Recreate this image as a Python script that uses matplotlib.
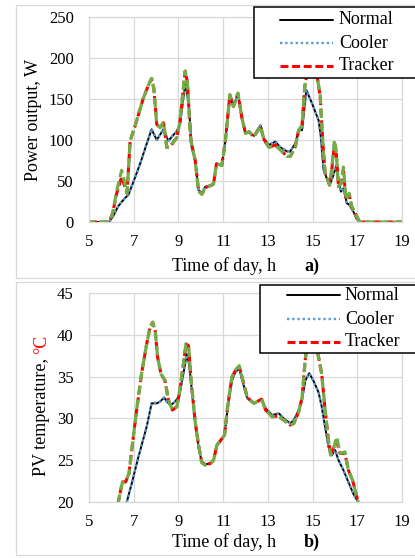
import matplotlib
matplotlib.use("Agg")
import matplotlib.pyplot as plt
from matplotlib.patches import Rectangle
from matplotlib.lines import Line2D

plt.rcParams['font.family'] = ['Liberation Serif', 'DejaVu Serif']

# ---------------- data: power output (W) ----------------
t_pow_normal = [5.0, 5.9, 6.1, 6.3, 6.6, 6.76, 7.0, 7.3, 7.6, 7.8, 8.03, 8.33, 8.55, 8.93, 9.07,
                9.3, 9.45, 9.6, 9.75, 9.9, 10.05, 10.2, 10.4, 10.57, 10.7, 10.94, 11.1, 11.3,
                11.46, 11.66, 11.84, 12.0, 12.16, 12.38, 12.67, 12.82, 13.04, 13.34, 13.56,
                13.86, 14.0, 14.23, 14.38, 14.53, 14.72, 14.97, 15.27, 15.37, 15.49, 15.64,
                15.79, 15.93, 16.05, 16.16, 16.27, 16.38, 16.53, 16.64, 16.82, 16.97, 17.12, 19.0]
p_normal = [0, 0, 8, 19, 29, 33, 50, 72, 97, 113, 100, 113, 99, 111, 119,
            168, 147, 91, 75, 39, 35, 43, 44, 47, 71, 69, 99, 153,
            141, 156, 127, 108, 110, 105, 118, 102, 94, 98, 91,
            86, 86, 96, 112, 112, 161, 145, 124, 104, 64, 53,
            47, 57, 68, 51, 37, 41, 23, 21, 13, 4, 0, 0]
p_cooler = [0, 0, 8, 19, 29, 33, 50, 72, 97, 114, 100, 113, 99, 111, 119,
            168, 147, 91, 75, 39, 35, 43, 44, 47, 71, 69, 99, 153,
            141, 156, 127, 108, 110, 105, 118, 102, 94, 98, 91,
            86, 86, 96, 112, 112, 161, 145, 124, 104, 64, 53,
            47, 57, 68, 51, 37, 41, 23, 21, 13, 4, 0, 0]

t_pow_tracker = [5.0, 5.9, 6.05, 6.24, 6.46, 6.58, 6.7, 6.84, 7.06, 7.43, 7.66, 7.8, 7.9, 8.03,
                 8.18, 8.33, 8.48, 8.63, 8.93, 9.07, 9.3, 9.4, 9.55, 9.75, 9.9, 10.05, 10.2,
                 10.4, 10.57, 10.7, 10.94, 11.1, 11.3, 11.46, 11.66, 11.84, 12.0, 12.16, 12.38,
                 12.67, 12.82, 13.04, 13.34, 13.56, 13.86, 14.0, 14.23, 14.38, 14.53, 14.65,
                 14.8, 15.0, 15.2, 15.34, 15.46, 15.56, 15.76, 15.86, 15.98, 16.05, 16.16,
                 16.27, 16.38, 16.5, 16.64, 16.75, 16.97, 17.12, 19.0]
p_tracker = [0, 0, 10, 35, 55, 45, 35, 99, 117, 151, 167, 175, 163, 119,
             115, 121, 91, 92, 103, 123, 184, 171, 100, 75, 38, 34, 42,
             44, 46, 71, 69, 99, 155, 141, 157, 127, 108, 110, 104,
             117, 101, 91, 94, 88, 80, 80, 92, 112, 118, 165,
             188, 186, 178, 153, 96, 60, 45, 64, 95, 88, 43,
             47, 62, 27, 33, 19, 7, 0, 0]
p_extra = [0, 0, 10, 38, 63, 50, 35, 99, 117, 151, 167, 175, 163, 119,
           115, 122, 91, 92, 103, 123, 184, 171, 100, 75, 37, 34, 42,
           44, 46, 71, 69, 99, 155, 141, 157, 127, 108, 110, 104,
           117, 101, 91, 93, 88, 80, 80, 92, 112, 118, 165,
           188, 186, 178, 155, 96, 60, 45, 66, 100, 88, 43,
           47, 67, 27, 35, 19, 7, 0, 0]

# ---------------- data: PV temperature (degC) ----------------
t_tmp_normal = [6.4, 6.69, 6.91, 7.21, 7.58, 7.8, 8.03, 8.18, 8.36, 8.48, 8.66, 8.85, 9.04, 9.22,
                9.37, 9.48, 9.63, 9.75, 9.9, 10.04, 10.19, 10.42, 10.57, 10.72, 10.87, 11.06,
                11.21, 11.39, 11.54, 11.72, 11.86, 12.08, 12.38, 12.72, 12.9, 13.19, 13.49,
                13.71, 14.0, 14.16, 14.38, 14.53, 14.67, 14.85, 15.04, 15.27, 15.41, 15.56,
                15.71, 15.86, 16.01, 16.16, 16.38, 16.6, 16.82, 17.04, 17.4]
T_normal = [17.0, 20.0, 22.2, 25.4, 29.0, 31.8, 31.8, 32.0, 32.5, 32.0, 31.6, 32.0, 32.7, 35.3,
            37.7, 36.5, 32.5, 29.4, 26.6, 24.8, 24.5, 24.6, 25.0, 26.8, 27.3, 28.0,
            31.4, 34.5, 35.5, 36.0, 34.5, 32.4, 31.8, 32.3, 31.2, 30.4, 30.6,
            30.0, 29.4, 29.8, 31.0, 32.2, 34.5, 35.4, 34.5, 33.1, 31.4, 29.0,
            26.6, 25.6, 26.2, 25.0, 23.8, 22.4, 21.0, 20.0, 17.0]
T_cooler = [17.0, 20.0, 22.2, 25.4, 29.0, 31.8, 31.9, 32.0, 32.5, 32.0, 31.6, 32.0, 32.7, 35.3,
            37.6, 36.5, 32.5, 29.4, 26.6, 24.8, 24.5, 24.6, 25.0, 26.8, 27.3, 28.0,
            31.4, 34.5, 35.5, 36.0, 34.5, 32.4, 31.8, 32.3, 31.2, 30.4, 30.6,
            30.0, 29.4, 29.8, 31.0, 32.2, 34.5, 35.4, 34.5, 33.1, 31.4, 29.0,
            26.6, 25.6, 26.2, 25.0, 23.8, 22.4, 21.0, 20.0, 17.0]

t_tmp_tracker = [6.0, 6.31, 6.49, 6.64, 6.79, 6.91, 7.13, 7.36, 7.58, 7.73, 7.85, 7.96, 8.07, 8.22,
                 8.4, 8.55, 8.73, 8.93, 9.07, 9.22, 9.34, 9.45, 9.57, 9.75, 9.9, 10.04, 10.19,
                 10.42, 10.57, 10.72, 10.87, 11.06, 11.21, 11.39, 11.54, 11.72, 11.86, 12.08,
                 12.38, 12.72, 12.9, 13.19, 13.49, 13.71, 14.0, 14.16, 14.38, 14.53, 14.67,
                 14.8, 14.95, 15.1, 15.27, 15.41, 15.56, 15.71, 15.81, 15.96, 16.08, 16.23,
                 16.45, 16.6, 16.79, 17.04, 17.4]
T_tracker = [17.0, 20.0, 22.4, 22.4, 23.4, 26.2, 31.0, 35.5, 38.9, 40.9, 41.5, 40.5, 37.3, 35.3,
             34.5, 32.2, 31.0, 31.4, 33.5, 36.5, 38.9, 38.7, 34.5, 29.6, 26.8, 24.8, 24.5,
             24.6, 25.0, 26.8, 27.3, 28.0, 31.6, 34.9, 35.7, 36.2, 34.8, 32.5,
             31.8, 32.3, 31.0, 30.2, 30.3, 29.8, 29.2, 29.4, 30.8, 32.5, 37.0,
             39.5, 40.0, 39.5, 37.3, 35.3, 31.0, 27.4, 25.6, 26.6, 27.2, 25.8,
             25.8, 23.8, 22.6, 20.0, 17.0]
T_extra = [17.0, 20.0, 22.3, 22.5, 23.4, 26.2, 31.0, 35.5, 38.9, 40.9, 41.5, 40.5, 37.3, 35.3,
           34.6, 32.2, 31.0, 31.4, 33.5, 36.5, 38.9, 38.7, 34.5, 29.6, 26.8, 24.7, 24.4,
           24.6, 25.0, 26.8, 27.3, 28.0, 31.6, 34.9, 35.8, 36.3, 34.8, 32.5,
           31.8, 32.3, 31.0, 30.2, 30.2, 29.8, 29.2, 29.4, 30.8, 32.5, 37.0,
           39.5, 40.0, 39.5, 37.3, 35.3, 31.0, 27.4, 25.6, 26.6, 27.8, 25.8,
           26.0, 23.8, 22.6, 20.0, 17.0]

x_ticks = [5, 7, 9, 11, 13, 15, 17, 19]
pow_ticks = [0, 50, 100, 150, 200, 250]
tmp_ticks = [20, 25, 30, 35, 40, 45]
series_names = ["Normal", "Cooler", "Tracker"]

# ---------------- layout ----------------
W, H = 415, 558
fig = plt.figure(figsize=(W / 100, H / 100), dpi=100)


def fx(x):
    return x / W


def fy(y):
    return 1 - y / H


GRID = '#D9D9D9'
C_NORMAL = 'black'
C_COOLER = '#5B9BD5'
C_TRACKER = '#FF0000'
C_EXTRA = '#70AD47'

st_normal = dict(color=C_NORMAL, lw=1.4, solid_capstyle='round', solid_joinstyle='round')
st_cooler = dict(color=C_COOLER, lw=1.7, linestyle=(0, (1, 1.2)))
st_tracker = dict(color=C_TRACKER, lw=2.2, linestyle=(0, (2.6, 1.2)))
st_extra = dict(color=C_EXTRA, lw=2.3, linestyle=(1.2, (3.0, 1.4)))

# outer chart borders
for (x0, y0, x1, y1) in [(16, 5, 417, 278), (16, 282, 417, 555)]:
    fig.add_artist(Rectangle((fx(x0), fy(y1)), fx(x1) - fx(x0), fy(y0) - fy(y1),
                             transform=fig.transFigure, fill=False, ec=GRID, lw=0.9, zorder=0.5))


def setup(ax, yticks):
    ax.set_xlim(5, 19)
    ax.set_ylim(yticks[0], yticks[-1])
    ax.set_xticks(x_ticks)
    ax.set_yticks(yticks)
    ax.grid(True, color=GRID, lw=0.9)
    ax.set_axisbelow(True)
    for s in ax.spines.values():
        s.set_color(GRID)
        s.set_linewidth(0.9)
    ax.tick_params(axis='both', length=0, labelsize=12)
    ax.tick_params(axis='y', pad=11)
    ax.tick_params(axis='x', pad=9)


ax_a = fig.add_axes([fx(89), fy(222), fx(402) - fx(89), fy(17) - fy(222)])
ax_b = fig.add_axes([fx(89), fy(502), fx(402) - fx(89), fy(293) - fy(502)])
setup(ax_a, pow_ticks)
setup(ax_b, tmp_ticks)

ax_a.plot(t_pow_normal, p_normal, **st_normal)
ax_a.plot(t_pow_normal, p_cooler, **st_cooler)
ax_a.plot(t_pow_tracker, p_tracker, **st_tracker)
ax_a.plot(t_pow_tracker, p_extra, **st_extra)

ax_b.plot(t_tmp_normal, T_normal, **st_normal)
ax_b.plot(t_tmp_normal, T_cooler, **st_cooler)
ax_b.plot(t_tmp_tracker, T_tracker, **st_tracker)
ax_b.plot(t_tmp_tracker, T_extra, **st_extra)

# axis titles
fig.text(fx(224), fy(266), "Time of day, h", ha='center', va='center', fontsize=13)
fig.text(fx(312), fy(266), "a)", ha='center', va='center', fontsize=13, fontweight='bold')
fig.text(fx(224), fy(542), "Time of day, h", ha='center', va='center', fontsize=13)
fig.text(fx(312), fy(542), "b)", ha='center', va='center', fontsize=13, fontweight='bold')
fig.text(fx(33), fy(120), "Power output, W", rotation=90, ha='center', va='center', fontsize=13)
fig.text(fx(42), fy(358), "PV temperature,", rotation=90, ha='center', va='top', fontsize=13)
fig.text(fx(42), fy(354), "\u00b0C", rotation=90, ha='center', va='bottom', fontsize=13, color='red')


# legends
def draw_legend(box, rows_y, hx0, hx1, tx):
    x0, y0, x1, y1 = box
    fig.add_artist(Rectangle((fx(x0), fy(y1)), fx(x1) - fx(x0), fy(y0) - fy(y1),
                             transform=fig.transFigure, fc='white', ec='black', lw=1.1, zorder=5))
    styles = [st_normal, st_cooler, st_tracker]
    for name, yy, st in zip(series_names, rows_y, styles):
        fig.add_artist(Line2D([fx(hx0), fx(hx1)], [fy(yy), fy(yy)], transform=fig.transFigure,
                              zorder=6, **st))
        fig.text(fx(tx), fy(yy), name, ha='left', va='center', fontsize=13, zorder=7)


draw_legend((254, 7, 425, 78), [20, 43, 66], 280, 333, 339)
draw_legend((260, 285, 425, 353), [295, 319, 342], 287, 340, 345)

fig.savefig("out.png", dpi=100)
